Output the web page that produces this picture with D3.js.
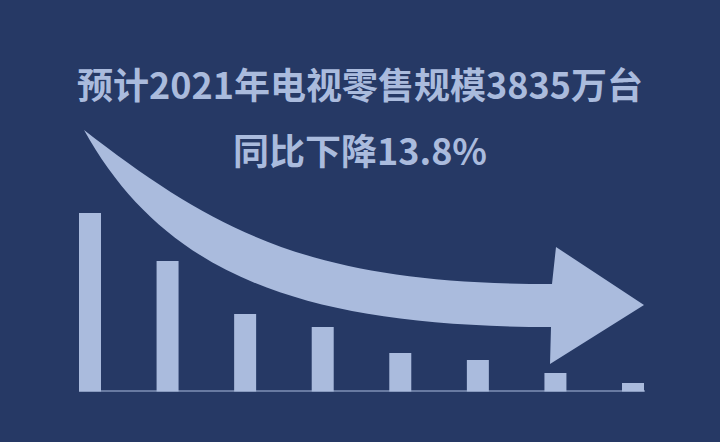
<!DOCTYPE html>
<html>
<head>
<meta charset="utf-8">
<script src="https://cdn.jsdelivr.net/npm/d3@7"></script>
<style>
  html, body { margin: 0; padding: 0; background: #263965; }
  svg { display: block; }
</style>
</head>
<body>
<div id="chart"></div>
<script>
// data (relative bar heights, no axis shown)
var categories = ["2014", "2015", "2016", "2017", "2018", "2019", "2020", "2021"];
var values = [178.5, 130.5, 77.5, 64.5, 38.5, 31.5, 18.5, 8.5];
var titleLines = ["预计2021年电视零售规模3835万台", "同比下降13.8%"];

var w = 720, h = 442;
var bg = "#263965", fg = "#aabbdd";

var svg = d3.select("#chart").append("svg")
    .attr("width", w)
    .attr("height", h);

svg.append("rect").attr("width", w).attr("height", h).attr("fill", bg);

var x = d3.scaleBand()
    .domain(categories)
    .range([79, 644])
    .paddingInner(0.7165)
    .paddingOuter(0);

var y = d3.scaleLinear()
    .domain([0, 180])
    .range([391.5, 211.5]);

// bars
svg.selectAll("rect.bar")
    .data(values)
    .enter().append("rect")
    .attr("class", "bar")
    .attr("x", function(d, i) { return x(categories[i]); })
    .attr("width", x.bandwidth())
    .attr("y", function(d) { return y(d); })
    .attr("height", function(d) { return y(0) - y(d); })
    .attr("fill", fg);

// baseline
svg.append("line")
    .attr("x1", x.range()[0]).attr("x2", x.range()[1] + 1)
    .attr("y1", y(0) - 0.5).attr("y2", y(0) - 0.5)
    .attr("stroke", fg).attr("stroke-width", 1.2);

// big curved arrow (decoration)
var p = d3.path();
p.moveTo(84, 130);
p.bezierCurveTo(224, 239, 322, 284, 552, 284);
p.lineTo(556, 247);
p.lineTo(644, 305);
p.lineTo(550, 364);
p.lineTo(551, 327);
p.bezierCurveTo(301, 327, 164, 274, 84, 130);
p.closePath();
svg.append("path").attr("d", p.toString()).attr("fill", fg);

// title
svg.selectAll("text.title")
    .data(titleLines)
    .enter().append("text")
    .attr("class", "title")
    .text(function(d) { return d; })
    .attr("x", w / 2)
    .attr("y", function(d, i) { return 99 + i * 66; })
    .attr("text-anchor", "middle")
    .attr("font-family", "'Noto Sans CJK SC', 'Noto Sans', sans-serif")
    .attr("font-weight", "bold")
    .attr("font-size", "36px")
    .attr("fill", fg);
</script>
</body>
</html>
